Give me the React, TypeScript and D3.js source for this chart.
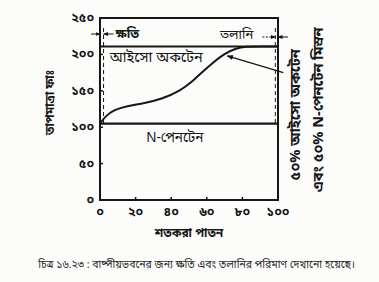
import React from 'react';
import * as d3 from 'd3';

// distillation curve (percent distilled vs temperature °F)
const distilledPct = [0, 3, 8, 15, 25, 35, 45, 52, 58, 64, 70, 76, 82, 90, 100];
const distilledTemp = [105, 115, 124, 129, 133, 139, 150, 163, 177, 190, 201, 208, 211, 211, 211];

const isoOctaneTemp = 211;
const nPentaneTemp = 105;

const xTicks = [0, 20, 40, 60, 80, 100];
const xTickLabels = ['০', '২০', '৪০', '৬০', '৮০', '১০০'];
const yTicks = [0, 50, 100, 150, 200, 250];
const yTickLabels = ['০', '৫০', '১০০', '১৫০', '২০০', '২৫০'];

const lossPct = 2;
const residuePct = 98.5;
const markerTemp = 228;

const W = 379;
const H = 282;
const ink = '#161616';
const font = '"Noto Sans Bengali", "Lohit Bengali", "Noto Sans", sans-serif';

export default function App() {
  const x = d3.scaleLinear().domain([0, 100]).range([100, 278]);
  const y = d3.scaleLinear().domain([0, 250]).range([200, 18]);

  const pts: [number, number][] = distilledPct.map((p, i) => [p, distilledTemp[i]]);
  const line = d3.line<[number, number]>()
    .x(d => x(d[0]))
    .y(d => y(d[1]))
    .curve(d3.curveBasis);

  const x0 = x(0), x1 = x(100);
  const yTop = y(250), yBot = y(0);
  const ym = y(markerTemp);

  return (
    <svg width={W} height={H} style={{ position: 'absolute', left: 0, top: 0, background: '#fcfcfb' }}
      fontFamily={font}>
      <defs>
        <marker id="ah" viewBox="0 0 10 10" refX="9" refY="5" markerWidth="5" markerHeight="5" orient="auto">
          <path d="M0,1 L10,5 L0,9 Z" fill={ink} />
        </marker>
      </defs>

      {/* frame */}
      <path d={`M${x0},${yTop} L${x1},${yTop} L${x1},${yBot} L${x0},${yBot} Z`} fill="none" stroke={ink} strokeWidth={2} />

      {/* ticks */}
      {xTicks.slice(1, -1).map(t => (
        <line key={'xt' + t} x1={x(t)} x2={x(t)} y1={yBot} y2={yBot - 3} stroke={ink} strokeWidth={1.5} />
      ))}
      {yTicks.slice(1, -1).map(t => (
        <line key={'yt' + t} x1={x0} x2={x0 + 3} y1={y(t)} y2={y(t)} stroke={ink} strokeWidth={1.5} />
      ))}

      {/* tick labels */}
      {xTicks.map((t, i) => (
        <text key={'xl' + t} x={x(t)} y={yBot + 16} textAnchor="middle" fontSize={12.5} fontWeight="bold" fill={ink}>
          {xTickLabels[i]}
        </text>
      ))}
      {yTicks.map((t, i) => (
        <text key={'yl' + t} x={x0 - 6} y={y(t) + 4} textAnchor="end" fontSize={12.5} fontWeight="bold" fill={ink}>
          {yTickLabels[i]}
        </text>
      ))}

      {/* boiling point lines */}
      <line x1={x0} x2={x1} y1={y(isoOctaneTemp)} y2={y(isoOctaneTemp)} stroke={ink} strokeWidth={2} />
      <line x1={x0} x2={x1} y1={y(nPentaneTemp)} y2={y(nPentaneTemp)} stroke={ink} strokeWidth={2.2} />
      <text x={x(5.5)} y={y(isoOctaneTemp) + 16} fontSize={14.5} fill={ink}>আইসো অকটেন</text>
      <text x={x(26)} y={y(nPentaneTemp) + 18} fontSize={13.5} fill={ink}>N-পেনটেন</text>

      {/* distillation curve */}
      <path d={line(pts) ?? ''} fill="none" stroke={ink} strokeWidth={2} />

      {/* loss / residue dashed limits */}
      <line x1={x(lossPct)} x2={x(lossPct)} y1={ym - 6} y2={y(nPentaneTemp)} stroke={ink} strokeWidth={1} strokeDasharray="4,3" />
      <line x1={x(residuePct)} x2={x(residuePct)} y1={ym - 6} y2={y(nPentaneTemp)} stroke={ink} strokeWidth={1} strokeDasharray="4,3" />

      <line x1={x0 - 9} x2={x0} y1={ym} y2={ym} stroke={ink} strokeWidth={1} markerEnd="url(#ah)" />
      <line x1={x(lossPct) + 10} x2={x(lossPct)} y1={ym} y2={ym} stroke={ink} strokeWidth={1} markerEnd="url(#ah)" />
      <text x={x(lossPct) + 12} y={ym + 4} fontSize={12.5} fontWeight="bold" fill={ink}>ক্ষতি</text>

      <line x1={x(residuePct) - 13} x2={x(residuePct)} y1={ym + 3} y2={ym + 3} stroke={ink} strokeWidth={1} strokeDasharray="2,1.5" markerEnd="url(#ah)" />
      <line x1={x1 + 10} x2={x1} y1={ym + 3} y2={ym + 3} stroke={ink} strokeWidth={1} markerEnd="url(#ah)" />
      <text x={x(residuePct) - 22} y={ym + 5} textAnchor="end" fontSize={13} fill={ink}>তলানি</text>

      {/* pointer to curve */}
      <line x1={x(103)} y1={y(175)} x2={x(71.5)} y2={y(198)} stroke={ink} strokeWidth={1.3} markerEnd="url(#ah)" />

      {/* axis titles */}
      <text transform={`translate(${x(50)},${yBot + 37})`} textAnchor="middle" fontSize={12} fontWeight="bold" fill={ink}>শতকরা পাতন</text>
      <text transform={`translate(54,${y(134)}) rotate(-90)`} textAnchor="middle" fontSize={12} fontWeight="bold" fill={ink}>তাপমাত্রা ফাঃ</text>

      {/* right side labels */}
      <text transform={`translate(300,${y(117)}) rotate(-90)`} textAnchor="middle" fontSize={14.5} fontWeight="bold" fill={ink}>৫০% আইসো অকটেন</text>
      <text transform={`translate(323,${y(124)}) rotate(-90)`} textAnchor="middle" fontSize={14.5} fontWeight="bold" fill={ink}>এবং ৫০% N-পেনটেন মিস্রন</text>

      {/* caption */}
      <text x={W / 2 + 7} y={268} textAnchor="middle" fontSize={10.5} fill="#2a2a2a">
        চিত্র ১৬.২৩ : বাষ্পীয়ভবনের জন্য ক্ষতি এবং তলানির পরিমাণ দেখানো হয়েছে।
      </text>
    </svg>
  );
}
